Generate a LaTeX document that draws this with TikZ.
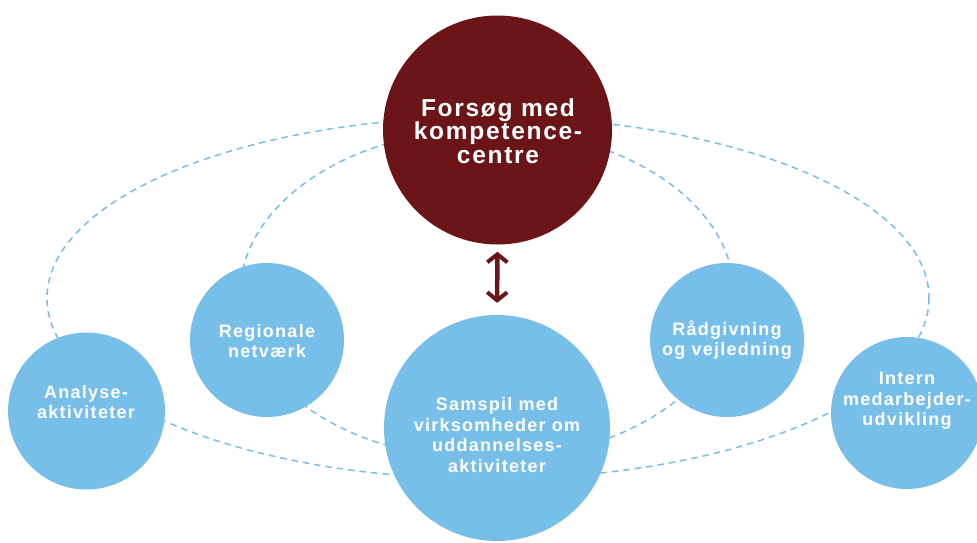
\documentclass[tikz,border=0pt]{standalone}
\usepackage{fontspec}
\setmainfont{Liberation Sans}
\newfontfamily\lblfont{Liberation Sans Bold}[LetterSpace=7]
\usetikzlibrary{arrows.meta}
\definecolor{darkred}{HTML}{6C1519}
\definecolor{skyblue}{HTML}{77BFE9}
\begin{document}
\begin{tikzpicture}[x=1pt,y=-1pt,
  bubble/.style={circle,fill=skyblue,inner sep=0pt},
  bubbletext/.style={text=white,align=center,inner sep=0pt,font=\lblfont\fontsize{18}{20.5}\selectfont},
  titletext/.style={text=white,align=center,inner sep=0pt,font=\lblfont\fontsize{24.5}{23.5}\selectfont},
  orbit/.style={draw=skyblue,dash pattern=on 6.5pt off 5pt,line width=1.5pt},
  barb/.style={line width=4.5pt,draw=darkred,{Straight Barb[length=8pt,width=20pt,line width=4pt]}-{Straight Barb[length=8pt,width=20pt,line width=4pt]}}]
\useasboundingbox (0,0) rectangle (977,542);
\draw[orbit] (488,298) ellipse [x radius=441, y radius=181];
\draw[orbit] (487,294.5) ellipse [x radius=247, y radius=165];
\node[bubble,fill=darkred,minimum size=229pt] (top) at (497.5,130) {};
\node[titletext] (top-t) at (498,131) {Forsøg med\\kompetence-\\centre};
\node[bubble,minimum size=226pt] (mid) at (497,428) {};
\node[bubbletext] (mid-t) at (497,435) {Samspil med\\virksomheder om\\uddannelses-\\aktiviteter};
\node[bubble,minimum size=154pt] (reg) at (267,340) {};
\node[bubbletext] (reg-t) at (267,341) {Regionale\\netværk};
\node[bubble,minimum size=154pt] (raad) at (727,340) {};
\node[bubbletext] (raad-t) at (727,340) {Rådgivning\\og vejledning};
\node[bubble,minimum size=157pt] (ana) at (86.5,411) {};
\node[bubbletext] (ana-t) at (86,402) {Analyse-\\aktiviteter};
\node[bubble,minimum size=152pt] (int) at (907,413) {};
\node[bubbletext] (int-t) at (907,401) {Intern\\medarbejder-\\udvikling};
\draw[barb,shorten <=7pt,shorten >=12pt] (top.south) -- (mid.north);
\end{tikzpicture}
\end{document}
